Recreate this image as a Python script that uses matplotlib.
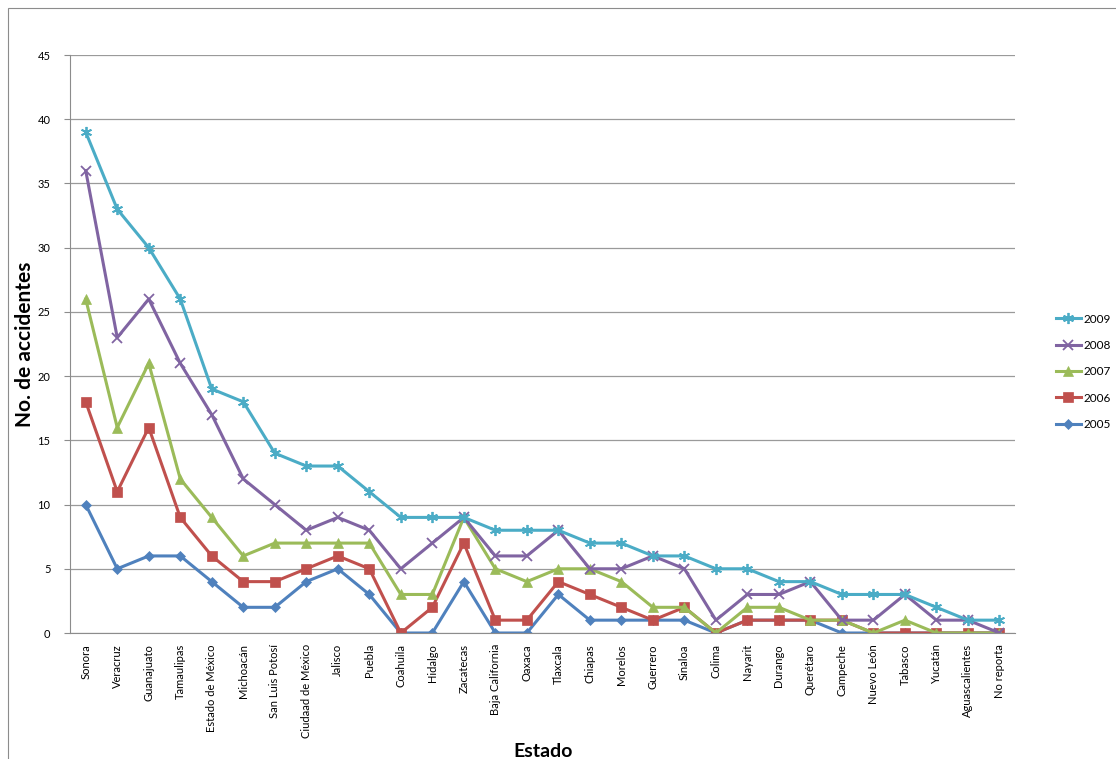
import matplotlib.pyplot as plt
import matplotlib.patches as patches

estados = ['Sonora', 'Veracruz', 'Guanajuato', 'Tamaulipas', 'Estado de México',
           'Michoacán', 'San Luis Potosí', 'Ciudaad de México', 'Jalisco', 'Puebla',
           'Coahuila', 'Hidalgo', 'Zacatecas', 'Baja California', 'Oaxaca',
           'Tlaxcala', 'Chiapas', 'Morelos', 'Guerrero', 'Sinaloa', 'Colima',
           'Nayarit', 'Durango', 'Querétaro', 'Campeche', 'Nuevo León', 'Tabasco',
           'Yucatán', 'Aguascalientes', 'No reporta']

a2005 = [10, 5, 6, 6, 4, 2, 2, 4, 5, 3, 0, 0, 4, 0, 0, 3, 1, 1, 1, 1, 0, 1, 1, 1, 0, 0, 0, 0, 0, 0]
a2006 = [18, 11, 16, 9, 6, 4, 4, 5, 6, 5, 0, 2, 7, 1, 1, 4, 3, 2, 1, 2, 0, 1, 1, 1, 1, 0, 0, 0, 0, 0]
a2007 = [26, 16, 21, 12, 9, 6, 7, 7, 7, 7, 3, 3, 9, 5, 4, 5, 5, 4, 2, 2, 0, 2, 2, 1, 1, 0, 1, 0, 0, 0]
a2008 = [36, 23, 26, 21, 17, 12, 10, 8, 9, 8, 5, 7, 9, 6, 6, 8, 5, 5, 6, 5, 1, 3, 3, 4, 1, 1, 3, 1, 1, 0]
a2009 = [39, 33, 30, 26, 19, 18, 14, 13, 13, 11, 9, 9, 9, 8, 8, 8, 7, 7, 6, 6, 5, 5, 4, 4, 3, 3, 3, 2, 1, 1]

plt.rcParams['font.family'] = ['Lato', 'DejaVu Sans']

fig = plt.figure(figsize=(11.16, 7.59), dpi=100)
ax = fig.add_axes([0.0627, 0.166, 0.847, 0.7615])

# marco exterior del grafico (sale por la derecha y por abajo)
fig.patches.append(patches.Rectangle((0.007, -0.02), 1.02, 1.0095, transform=fig.transFigure,
                                     fill=False, edgecolor='#8c8c8c', linewidth=0.8))

x = list(range(len(estados)))
series = [
    ('2005', a2005, '#4F81BD', 'D', 5),
    ('2006', a2006, '#C0504D', 's', 7.5),
    ('2007', a2007, '#9BBB59', '^', 7.5),
    ('2008', a2008, '#8064A2', 'x', 7),
    ('2009', a2009, '#4BACC6', (6, 2, 0), 8),
]
for nombre, vals, col, mk, ms in series:
    ax.plot(x, vals, color=col, linewidth=2.2, marker=mk, markersize=ms,
            markeredgewidth=1.3 if mk in ('x', (6, 2, 0)) else 0.5,
            markeredgecolor=col, label=nombre)

ax.set_xlim(-0.5, len(estados) - 0.5)
ax.set_ylim(0, 45)
ax.set_yticks(range(0, 46, 5))
ax.set_xticks(x)
ax.set_xticklabels(estados, rotation=90, fontsize=8)
ax.tick_params(axis='y', labelsize=8, length=4, color='#8c8c8c', pad=10)
ax.tick_params(axis='x', length=0, pad=8)
ax.yaxis.grid(True, color='#9a9a9a', linewidth=0.9)
ax.set_axisbelow(True)
for s in ['top', 'right']:
    ax.spines[s].set_visible(False)
for s in ['left', 'bottom']:
    ax.spines[s].set_color('#8c8c8c')

ax.set_ylabel('No. de accidentes', fontsize=15, fontweight='bold')
ax.yaxis.set_label_coords(-0.037, 0.5)
ax.set_xlabel('Estado', fontsize=14, fontweight='bold')
ax.xaxis.set_label_coords(0.5, -0.19)

h, l = ax.get_legend_handles_labels()
ax.legend(h[::-1], l[::-1], loc='center left', bbox_to_anchor=(1.043, 0.452), frameon=False,
          fontsize=8.5, handlelength=2.1, labelspacing=1.3, handletextpad=0.2,
          borderaxespad=0, borderpad=0)

plt.savefig('out.png', dpi=100)
